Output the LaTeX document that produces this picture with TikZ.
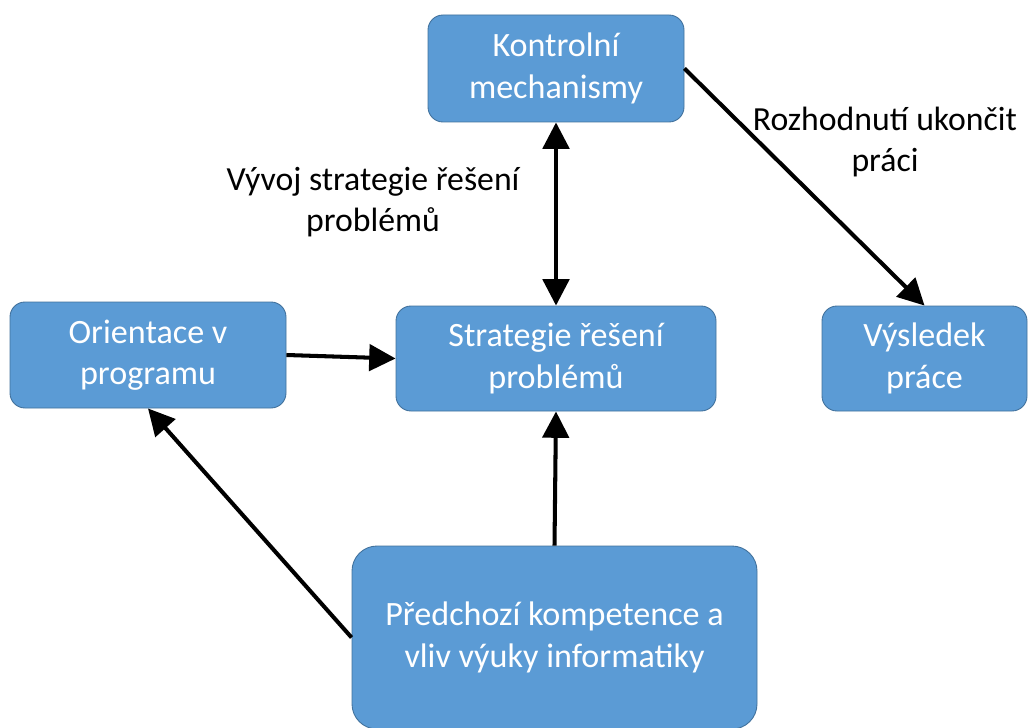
\documentclass[tikz,border=0pt]{standalone}
\usepackage{fontspec}
\setmainfont{Carlito}
\usetikzlibrary{arrows.meta}
\definecolor{boxfill}{HTML}{5B9BD5}
\definecolor{boxline}{HTML}{41719C}
\begin{document}
\begin{tikzpicture}[
	box/.style={draw=boxline, line width=0.5pt, fill=boxfill, rounded corners=0.3cm, text=white, align=center, inner sep=0pt, font=\fontsize{19.4}{23.6}\selectfont},
	lbl/.style={align=center, inner sep=0pt, font=\fontsize{19.2}{23.6}\selectfont},
	arr/.style={line width=2.3pt, -{Triangle[length=15pt,width=15pt]}}
	]
	\useasboundingbox (0,0) rectangle (20.56,14.54);
	\node[box, minimum width=5.12cm, minimum height=2.14cm] (kontrol) at (11.12,13.17) {Kontrolní\\mechanismy};
	\node[box, minimum width=5.52cm, minimum height=2.12cm] (orient) at (2.96,7.44) {Orientace v\\programu};
	\node[box, minimum width=6.4cm, minimum height=2.1cm] (strat) at (11.12,7.37) {Strategie řešení\\problémů};
	\node[box, minimum width=4.1cm, minimum height=2.1cm] (vysl) at (18.49,7.37) {Výsledek\\práce};
	\node[box, rounded corners=0.5cm, minimum width=8.1cm, minimum height=3.66cm] (predch) at (11.09,1.79) {Předchozí kompetence a\\vliv výuky informatiky};
	\node[lbl] (vyvoj) at (7.46,10.5) {Vývoj strategie řešení\\problémů};
	\node[lbl] (rozhod) at (17.7,11.7) {Rozhodnutí ukončit\\práci};
	\draw[arr, {Triangle[length=15pt,width=15pt]}-{Triangle[length=15pt,width=15pt]}] (kontrol.south) -- (strat.north);
	\draw[arr] (orient.east) -- (strat.west);
	\draw[arr] (kontrol.east) -- (vysl.north);
	\draw[arr] (predch.north) -- (strat.south);
	\draw[arr] (predch.west) -- (orient.south);
\end{tikzpicture}
\end{document}
